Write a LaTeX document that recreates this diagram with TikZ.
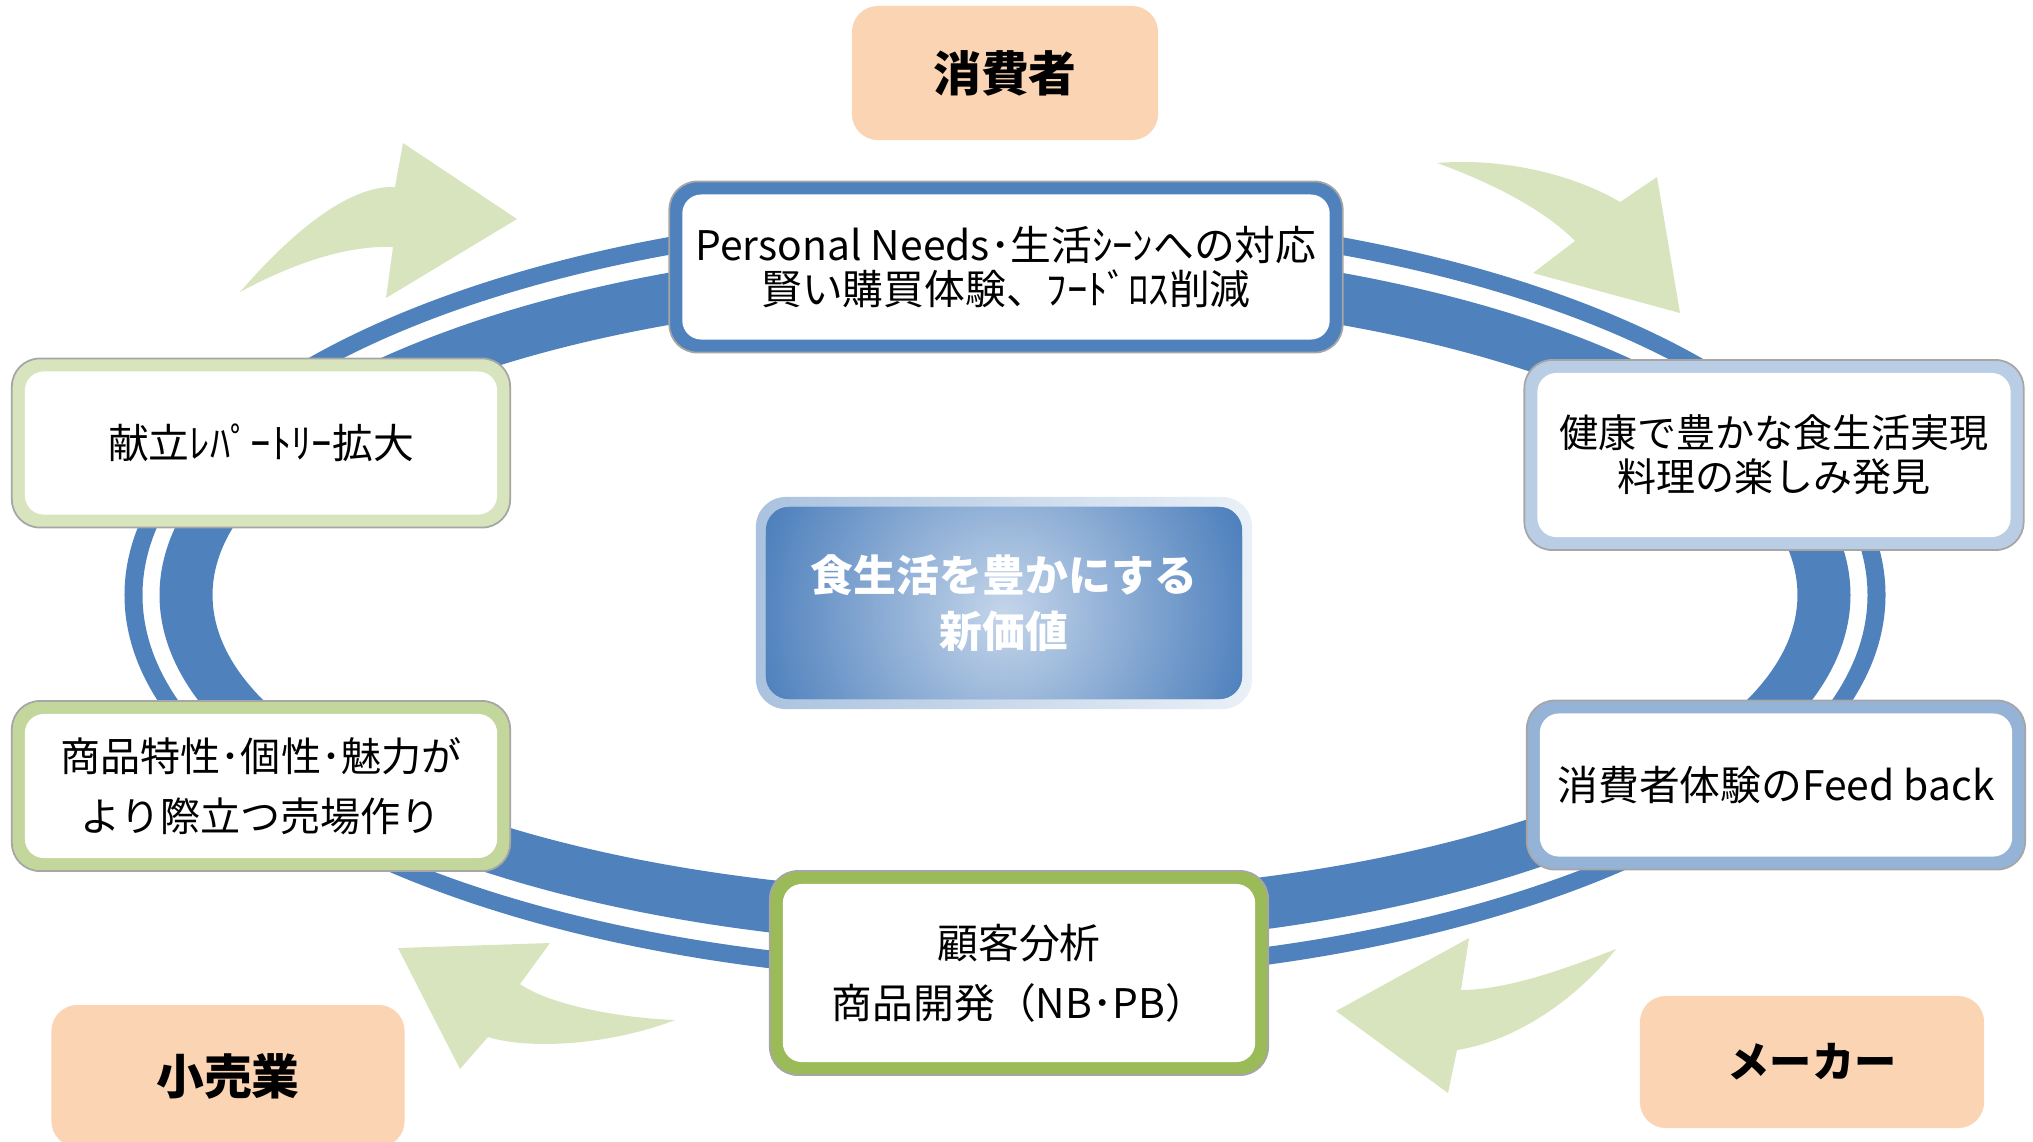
\documentclass[tikz,border=0pt]{standalone}
\usepackage{fontspec}
\setmainfont{Noto Sans CJK JP}
\usepackage{tikz}
\usetikzlibrary{positioning}
\definecolor{ringblue}{HTML}{4F81BD}
\definecolor{peach}{HTML}{FBD4B4}
\definecolor{leafpale}{HTML}{D7E4BD}
\definecolor{leafmid}{HTML}{C3D69B}
\definecolor{leafdark}{HTML}{9BBB59}
\definecolor{skypale}{HTML}{B9CDE5}
\definecolor{skymid}{HTML}{95B3D7}
\definecolor{glow}{HTML}{C4D5EA}
\tikzset{card/.style={rectangle, rounded corners=2.8mm, draw=gray!70, line width=0.5pt, fill=#1, inner sep=0pt, align=center, font=\fontsize{11.6}{12.5}\selectfont,
  path picture={\fill[white, rounded corners=1.9mm] ([shift={(1.3mm,-1.3mm)}]path picture bounding box.north west) rectangle ([shift={(-1.3mm,1.3mm)}]path picture bounding box.south east);}}}
\tikzset{tag/.style={rectangle, rounded corners=2.6mm, fill=peach, inner sep=0pt, font=\fontsize{13.6}{15}\selectfont\bfseries}}
\tikzset{turn/.style={fill=leafpale}}

\begin{document}
\begin{tikzpicture}[x=0.01cm,y=-0.01cm]
\useasboundingbox (0,0) rectangle (2033,1141);
\coordinate (hub) at (1005,595);

% ring
\fill[ringblue, even odd rule] (hub) ellipse (8.8cm and 3.87cm) (hub) ellipse (8.62cm and 3.69cm);
\fill[ringblue, even odd rule] (hub) ellipse (8.45cm and 3.51cm) (hub) ellipse (7.92cm and 2.98cm);

% turning arrows
\fill[turn] (240,292) .. controls (285,240) and (345,185) .. (395,187) -- (403,143) -- (517,219) -- (386,298) -- (393,247) .. controls (345,245) and (290,265) .. (240,292) -- cycle;
\fill[turn] (1437,163) .. controls (1510,157) and (1580,178) .. (1620,202) -- (1657,177) -- (1680,313) -- (1533,273) -- (1575,241) .. controls (1545,210) and (1490,182) .. (1437,163) -- cycle;
\fill[turn] (1336,1011) -- (1469,938) -- (1461,990) .. controls (1510,990) and (1575,965) .. (1616,949) .. controls (1580,995) and (1520,1040) .. (1457,1050) -- (1448,1093) -- cycle;
\fill[turn] (398,948) -- (550,943) -- (520,984) .. controls (550,1005) and (620,1018) .. (675,1020) .. controls (610,1045) and (530,1050) .. (488,1037) -- (460,1069) -- cycle;

% cards
\node[card=ringblue, minimum width=6.73cm, minimum height=1.71cm] (needs) at (1006,267) {Personal Needs･生活ｼｰﾝへの対応\\賢い購買体験、ﾌｰﾄﾞﾛｽ削減};
\node[card=leafpale, minimum width=4.98cm, minimum height=1.69cm] (menu) at (261,443) {献立ﾚﾊﾟｰﾄﾘｰ拡大};
\node[card=leafmid, minimum width=4.98cm, minimum height=1.7cm, font=\fontsize{11.4}{17}\selectfont] (shelf) at (261,786) {商品特性･個性･魅力が\\より際立つ売場作り};
\node[card=skypale, minimum width=4.99cm, minimum height=1.9cm, font=\fontsize{11.1}{12.5}\selectfont] (health) at (1774,455) {健康で豊かな食生活実現\\料理の楽しみ発見};
\node[card=skymid, minimum width=4.98cm, minimum height=1.69cm] (feedback) at (1776,785) {消費者体験のFeed back};
\node[card=leafdark, minimum width=4.98cm, minimum height=2.04cm, font=\fontsize{11.6}{17}\selectfont] (develop) at (1019,973) {顧客分析\\商品開発（NB･PB）};

% core
\node[rectangle, rounded corners=3mm, minimum width=4.96cm, minimum height=2.12cm, left color=skymid!80, right color=skypale!30, align=center, text=white, font=\fontsize{12.2}{16}\selectfont\bfseries,
  path picture={
    \clip[rounded corners=2.3mm] ([shift={(1mm,-1mm)}]path picture bounding box.north west) rectangle ([shift={(-1mm,1mm)}]path picture bounding box.south east);
    \fill[ringblue] (path picture bounding box.south west) rectangle (path picture bounding box.north east);
    \shade[inner color=glow, outer color=ringblue] ([yshift=-0.1cm]path picture bounding box.center) circle (2.5cm);
  }] (core) at (1004,603) {食生活を豊かにする\\新価値};

% players
\node[tag, minimum width=3.06cm, minimum height=1.34cm] (consumer) at (1005,73) {消費者};
\node[tag, minimum width=3.53cm, minimum height=1.42cm] (retail) at (228,1076) {小売業};
\node[tag, minimum width=3.44cm, minimum height=1.32cm, font=\fontsize{12}{15}\selectfont\bfseries] (maker) at (1812,1062) {メーカー};
\end{tikzpicture}
\end{document}
